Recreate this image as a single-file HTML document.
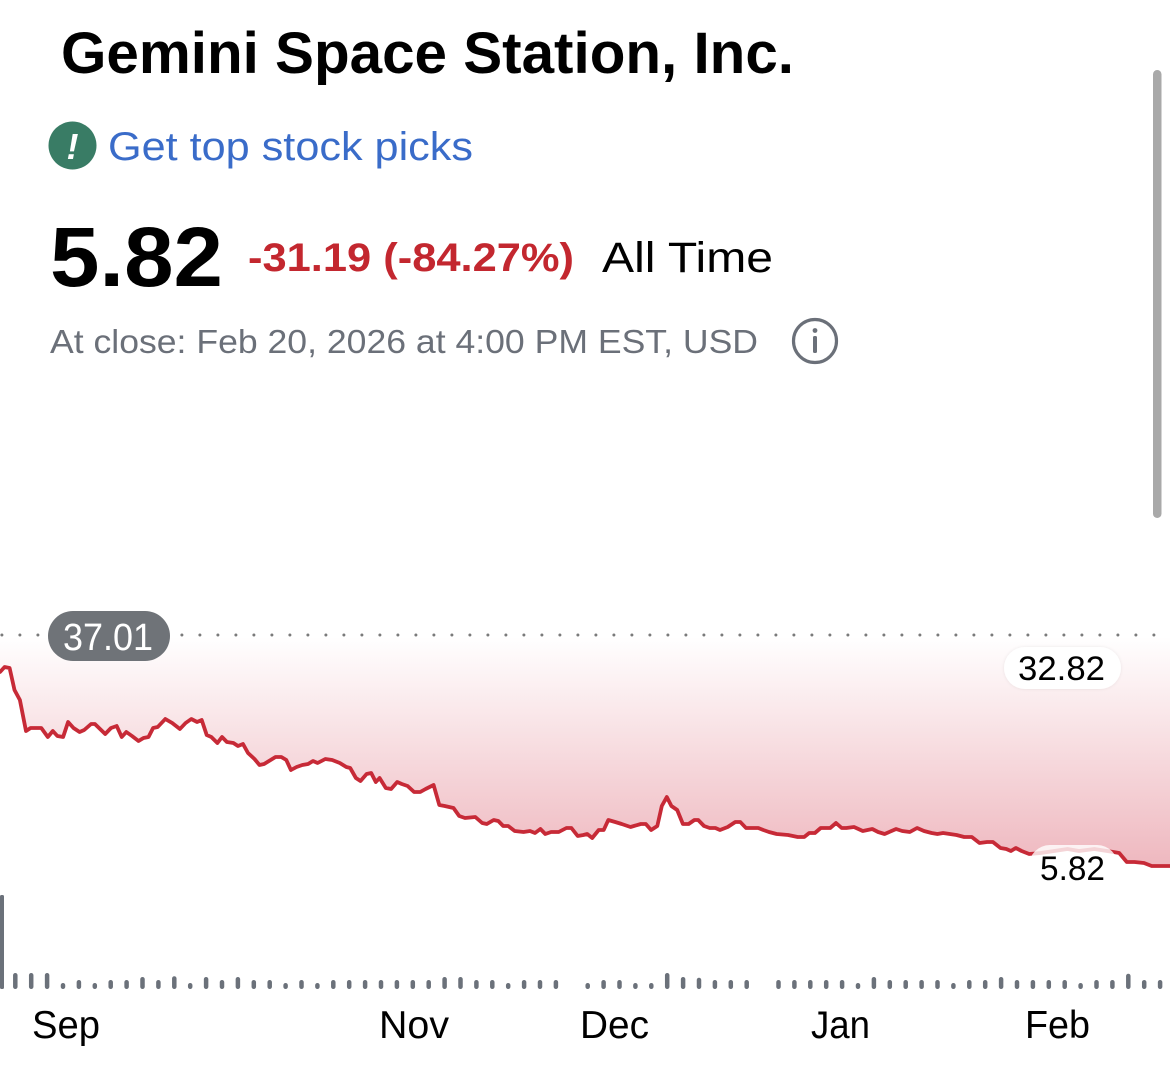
<!DOCTYPE html>
<html>
<head>
<meta charset="utf-8">
<style>
html,body{margin:0;padding:0;background:#fff;}
body{width:1170px;height:1073px;overflow:hidden;}
svg{display:block;}
text{font-family:"Liberation Sans",Arial,sans-serif;}
</style>
</head>
<body>
<svg width="1170" height="1073" viewBox="0 0 1170 1073" xmlns="http://www.w3.org/2000/svg" xmlns:xlink="http://www.w3.org/1999/xlink">
<defs>
<linearGradient id="fg" gradientUnits="userSpaceOnUse" x1="0" y1="637" x2="0" y2="875">
<stop offset="0" stop-color="#d23c50" stop-opacity="0"/>
<stop offset="1" stop-color="#d23c50" stop-opacity="0.38"/>
</linearGradient>
<filter id="sh" x="-20%" y="-30%" width="140%" height="160%">
<feDropShadow dx="0" dy="0" stdDeviation="1.5" flood-color="#000" flood-opacity="0.08"/>
</filter>
<path id="pl" d="M-6,637 L-6,672 L0,672 L4.6,667 L9.6,668 L14.5,690 L19.9,700 L26,731 L30.6,728 L41.3,728 L47.8,737 L52.8,731 L57.4,736 L63.1,737 L68.1,722 L73.5,728 L79.6,732 L84.2,730 L91.1,724 L94.9,724 L105.2,734 L111,728 L116.7,726 L121.7,737 L126.3,732 L132,736 L138.5,741 L143.5,738 L148.5,737 L153.1,728 L157.7,727 L165.3,719 L172.2,723 L179.9,729 L185.6,723 L191.3,719 L197.1,722 L201.7,720 L206.7,735 L211.3,737 L217.4,743 L222,737 L226.9,742 L233.4,743 L238,746 L243,744 L248,753 L254.5,759 L259.5,765 L264.1,764 L275.5,757 L281.3,757 L286.3,760 L290.9,770 L296.6,767 L302.3,765 L308.1,764 L313,761 L317.6,763 L325.3,759 L332.2,760 L339.8,763 L346.3,767 L350.2,768 L355.9,778 L360.5,781 L366.6,774 L371.2,773 L375.8,782 L379.6,778 L385.8,788 L391.1,789 L397.2,782 L401.8,784 L407.6,786 L414.1,792 L420.2,792 L425.6,789 L433.6,785 L439.3,805 L444.7,806 L453.5,808 L459.2,816 L465,818 L475.3,817 L482.2,823 L486.8,824 L493.7,820 L498.3,821 L503.2,826 L508.2,826 L514.7,831 L523.5,832 L530,831 L535,833 L540.4,829 L545.3,834 L551.1,832 L558.7,832 L566.4,828 L571.4,828 L577.7,836 L583.4,835 L587.2,834 L592.2,838 L598.7,830 L603.7,830 L608.3,820 L615.2,822 L621.7,824 L630.5,827 L640.8,824 L645.8,824 L651.1,830 L657.3,826 L661.8,806 L666.8,797 L671.4,806 L677.2,810 L682.9,824 L688.6,824 L694.4,820 L698.2,820 L704,826 L709.7,828 L715.4,828 L720,830 L727.7,827 L735.3,822 L740.3,822 L746,828 L758.3,828 L763.3,830 L769,832 L776.7,834 L788.1,835 L797.7,837 L804.2,837 L809.2,833 L814.9,833 L820.7,828 L830.2,828 L836,823 L841.7,828 L846.3,828 L854,827 L862.8,831 L872.3,829 L878.1,832 L884.6,834 L896.1,829 L902.2,831 L909.8,832 L917.1,828 L924,831 L931.6,833 L937.4,834 L943.1,833 L956.5,835 L964.2,837 L971.8,837 L979.5,843 L987.1,842 L992.9,842 L1000.5,848 L1006.3,849 L1010.9,851 L1015.8,848 L1021.6,851 L1029.2,854 L1040.7,853 L1067.5,849 L1079,851 L1094.3,849 L1113.4,852 L1119.2,853 L1126.8,862 L1134.5,862 L1144,863 L1151.7,866 L1161.3,866 L1170,866 L1176,866 L1176,637"/>
</defs>

<text x="61" y="73" font-size="58" font-weight="bold" fill="#000" textLength="733" lengthAdjust="spacingAndGlyphs">Gemini Space Station, Inc.</text>

<circle cx="72.5" cy="145.5" r="24" fill="#397c65"/>
<text x="72.5" y="159" font-size="36" font-weight="bold" font-style="italic" fill="#fff" text-anchor="middle">!</text>
<text x="108" y="160" font-size="40" fill="#3a6cc9" textLength="365" lengthAdjust="spacingAndGlyphs">Get top stock picks</text>

<text x="50" y="286" font-size="84" font-weight="bold" fill="#000" textLength="173" lengthAdjust="spacingAndGlyphs">5.82</text>
<text x="248" y="271" font-size="40" font-weight="bold" fill="#c3272f" textLength="326" lengthAdjust="spacingAndGlyphs">-31.19 (-84.27%)</text>
<text x="602" y="272" font-size="43" fill="#000" textLength="171" lengthAdjust="spacingAndGlyphs">All Time</text>

<text x="50" y="353" font-size="33" fill="#6b7079" textLength="708" lengthAdjust="spacingAndGlyphs">At close: Feb 20, 2026 at 4:00 PM EST, USD</text>
<circle cx="815" cy="341" r="21.5" fill="none" stroke="#6b7079" stroke-width="3.2"/>
<circle cx="815" cy="330.5" r="2.4" fill="#6b7079"/>
<rect x="813" y="336" width="4" height="17" rx="1.5" fill="#6b7079"/>

<rect x="1153" y="70" width="8.5" height="448" rx="4.25" fill="#a9a9a9"/>

<use href="#pl" xlink:href="#pl" fill="url(#fg)" stroke="none"/>

<line x1="1.9" y1="635" x2="1170" y2="635" stroke="#7a7a7a" stroke-width="3" stroke-linecap="round" stroke-dasharray="0 18"/>

<use href="#pl" xlink:href="#pl" fill="none" stroke="#c72a37" stroke-width="3.8" stroke-linejoin="round"/>

<rect x="48" y="611" width="122" height="50" rx="25" fill="#6f7378"/>
<text x="63" y="650" font-size="38" fill="#fff" textLength="90" lengthAdjust="spacingAndGlyphs">37.01</text>

<rect x="1004" y="647" width="117" height="42" rx="21" fill="#fff" filter="url(#sh)"/>
<text x="1018" y="680" font-size="34" fill="#000" textLength="87" lengthAdjust="spacingAndGlyphs">32.82</text>

<rect x="1029" y="845" width="89" height="42" rx="21" fill="#fff" fill-opacity="0.8"/>
<text x="1040" y="880" font-size="34" fill="#000" textLength="65" lengthAdjust="spacingAndGlyphs">5.82</text>

<rect x="0" y="895" width="4" height="94" rx="1.5" fill="#6b717a"/>

<g fill="none" stroke="#6b717a" stroke-width="4.5" stroke-linecap="round">
<path d="M15.3,986.75V975.25M31.2,986.75V975.25M47.1,986.75V975.25M667.2,986.75V975.25M1128.3,986.75V976"/>
<path d="M142.5,986.75V979.25M174.3,986.75V978.5M206.1,986.75V979.25M237.9,986.75V979.25M444.6,986.75V979.25M460.5,986.75V979.25M683.1,986.75V979.25M699,986.75V980M873.9,986.75V979.25M1001.1,986.75V979.25"/>
<path d="M63,986.75V985.25M94.8,986.75V985.25M190.2,986.75V985.25M285.6,986.75V985.25M317.4,986.75V985.25M508.2,986.75V985.25M587.7,986.75V985.25M635.4,986.75V985.25M651.3,986.75V985.25M858,986.75V985.25M953.4,986.75V985.25M1080.6,986.75V985.25"/>
<path d="M78.9,986.75V982.25M110.7,986.75V982.25M126.6,986.75V982.25M158.4,986.75V982.25M222,986.75V982.25M253.8,986.75V982.25M269.7,986.75V982.25M301.5,986.75V982.25M333.3,986.75V982.25M349.2,986.75V982.25M365.1,986.75V982.25M381,986.75V982.25M396.9,986.75V982.25M412.8,986.75V982.25M428.7,986.75V982.25M476.4,986.75V982.25M492.3,986.75V982.25M524.1,986.75V982.25M540,986.75V982.25M555.9,986.75V982.25M603.6,986.75V982.25M619.5,986.75V982.25M714.9,986.75V982.25M730.8,986.75V982.25M746.7,986.75V982.25M778.5,986.75V982.25M794.4,986.75V982.25M810.3,986.75V982.25M826.2,986.75V982.25M842.1,986.75V982.25M889.8,986.75V982.25M905.7,986.75V982.25M921.6,986.75V982.25M937.5,986.75V982.25M969.3,986.75V982.25M985.2,986.75V982.25M1017,986.75V982.25M1032.9,986.75V982.25M1048.8,986.75V982.25M1064.7,986.75V982.25M1096.5,986.75V982.25M1112.4,986.75V982.25M1144.2,986.75V982.25M1160.1,986.75V982.25"/>
</g>

<g font-size="39" fill="#000">
<text x="32" y="1038" textLength="68" lengthAdjust="spacingAndGlyphs">Sep</text>
<text x="379" y="1038" textLength="70" lengthAdjust="spacingAndGlyphs">Nov</text>
<text x="580" y="1038" textLength="69" lengthAdjust="spacingAndGlyphs">Dec</text>
<text x="811" y="1038" textLength="59" lengthAdjust="spacingAndGlyphs">Jan</text>
<text x="1025" y="1038" textLength="65" lengthAdjust="spacingAndGlyphs">Feb</text>
</g>
</svg>
</body>
</html>
